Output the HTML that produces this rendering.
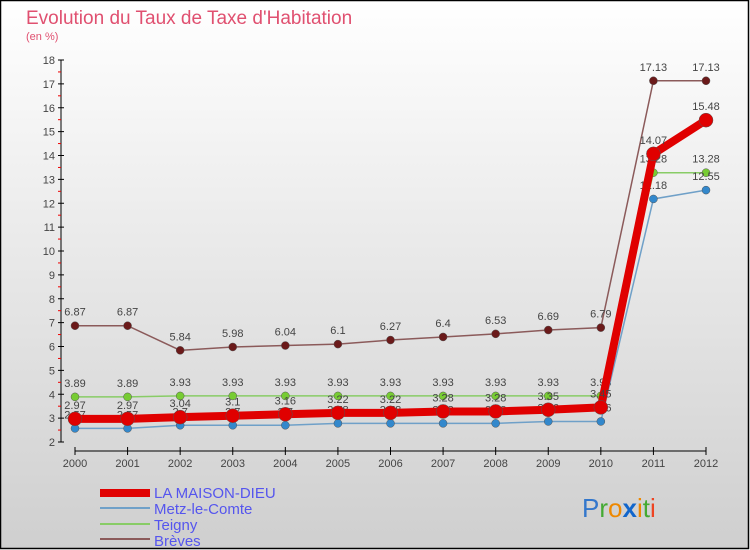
<!DOCTYPE html>
<html><head><meta charset="utf-8"><style>
html,body{margin:0;padding:0;width:750px;height:550px;overflow:hidden;font-family:"Liberation Sans",sans-serif}
</style></head><body>
<svg id="c" width="750" height="550" xmlns="http://www.w3.org/2000/svg">
<defs><linearGradient id="bg" x1="0" y1="0" x2="0" y2="1"><stop offset="0" stop-color="#ffffff"/><stop offset="1" stop-color="#cfcfcf"/></linearGradient></defs>
<rect x="0.5" y="0.5" width="748" height="548" fill="url(#bg)" stroke="#000" stroke-width="1.5"/>
<text x="26" y="24" font-size="19" fill="#e05070">Evolution du Taux de Taxe d'Habitation</text>
<text x="26" y="40" font-size="11" fill="#e05070">(en %)</text>
<g id="axes"></g><g id="series"></g>
<g>
<rect x="100" y="489" width="50" height="8" fill="#e00000"/>
<text x="154" y="498" font-size="15" fill="#5555ee">LA MAISON-DIEU</text>
<line x1="100" y1="508" x2="150" y2="508" stroke="#6fa0c8" stroke-width="2"/>
<text x="154" y="514" font-size="15" fill="#5555ee">Metz-le-Comte</text>
<line x1="100" y1="524" x2="150" y2="524" stroke="#88cc66" stroke-width="2"/>
<text x="154" y="530" font-size="15" fill="#5555ee">Teigny</text>
<line x1="100" y1="539" x2="150" y2="539" stroke="#8b5a5a" stroke-width="2"/>
<text x="154" y="546" font-size="15" fill="#5555ee">Brèves</text>
</g>
<text x="582" y="517" font-size="26" font-family="Liberation Sans"><tspan fill="#3377cc">P</tspan><tspan fill="#44aa33">r</tspan><tspan fill="#ee8800">o</tspan><tspan fill="#1166cc" font-weight="bold">x</tspan><tspan fill="#ee8800">i</tspan><tspan fill="#44aa33">t</tspan><tspan fill="#ee4422">i</tspan></text>
</svg>
<script>
const years=["2000","2001","2002","2003","2004","2005","2006","2007","2008","2009","2010","2011","2012"];
const yTicks=[2,3,4,5,6,7,8,9,10,11,12,13,14,15,16,17,18];
const maisonDieu=[2.97,2.97,3.04,3.1,3.16,3.22,3.22,3.28,3.28,3.35,3.45,14.07,15.48];
const metz=[2.57,2.57,2.7,2.7,2.7,2.78,2.78,2.78,2.78,2.86,2.86,12.18,12.55];
const teigny=[3.89,3.89,3.93,3.93,3.93,3.93,3.93,3.93,3.93,3.93,3.93,13.28,13.28];
const breves=[6.87,6.87,5.84,5.98,6.04,6.1,6.27,6.4,6.53,6.69,6.79,17.13,17.13];
const NS="http://www.w3.org/2000/svg";
const x=i=>75+i*(706-75)/(years.length-1);
const y=v=>442-(v-2)*(442-60)/16;
function mk(t,a,p){const e=document.createElementNS(NS,t);for(const k in a)e.setAttribute(k,a[k]);p.appendChild(e);return e;}
const ax=document.getElementById('axes');
let l=mk('line',{x1:61,y1:y(2),x2:61,y2:y(18),stroke:'#000'},ax);


yTicks.forEach(v=>{
 mk('line',{x1:58,y1:y(v),x2:64,y2:y(v),stroke:'#000'},ax);
 if(v<18) mk('line',{x1:58,y1:y(v+0.5),x2:61,y2:y(v+0.5),stroke:'#e00'},ax);
 const t=mk('text',{x:55,y:y(v)+4,'font-size':11,'text-anchor':'end',fill:'#444'},ax);t.textContent=v;
 
 
});
l=mk('line',{x1:x(0),y1:451,x2:x(12),y2:451,stroke:'#000'},ax);


years.forEach((yr,i)=>{
 mk('line',{x1:x(i),y1:447,x2:x(i),y2:455,stroke:'#000'},ax);
 const t=mk('text',{x:x(i),y:467,'font-size':11,'text-anchor':'middle',fill:'#444'},ax);t.textContent=yr;
 
 
});
const sg=document.getElementById('series');
function series(arr,name,col,dot,w,r){
 const g=mk('g',{},sg);
 
 
 const pl=mk('polyline',{points:arr.map((v,i)=>x(i)+','+y(v)).join(' '),fill:'none',stroke:col,'stroke-width':w},g);
 
 
 arr.forEach((v,i)=>{
  const c=mk('circle',{cx:x(i),cy:y(v),r:r,fill:dot,stroke:'#555','stroke-width':0.5},g);
  
  
  const t=mk('text',{x:x(i),y:y(v)-10,'font-size':11,'text-anchor':'middle',fill:'#444'},g);t.textContent=v;
  
  
 });
}
series(breves,'breves','#8b5a5a','#6b1a1a',1.5,4);
series(teigny,'teigny','#88cc66','#77cc33',1.5,4);
series(metz,'metz-le-comte','#6fa0c8','#3388cc',1.5,4);
series(maisonDieu,'la-maison-dieu','#e00000','#e00000',8,7);
</script>
</body></html>
